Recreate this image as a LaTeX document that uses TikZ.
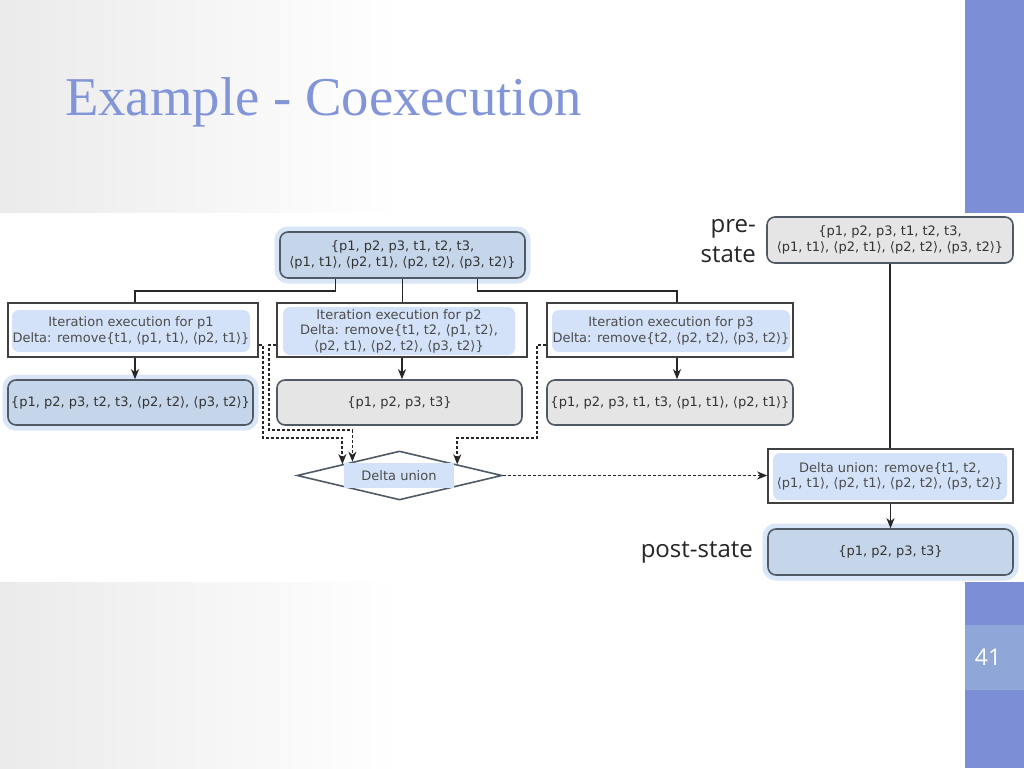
\documentclass[tikz,border=0pt]{standalone}
\usepackage{fontspec}
\setmainfont{DejaVu Sans}
\newfontfamily\titlefont{Liberation Serif}
\newfontfamily\labelfont{Open Sans}
\usetikzlibrary{shapes.geometric,arrows.meta,calc}
\definecolor{barblue}{HTML}{7B8ED6}
\definecolor{numbox}{HTML}{8FA6D8}
\definecolor{titleblue}{HTML}{8295D8}
\definecolor{stateblue}{HTML}{C6D6EA}
\definecolor{glowblue}{HTML}{D9E6F8}
\definecolor{hiblue}{HTML}{D3E2F8}
\definecolor{stategray}{HTML}{E5E5E5}
\definecolor{edgec}{HTML}{505A66}
\definecolor{txt}{HTML}{333333}
\begin{document}
\begin{tikzpicture}[x=1pt,y=-1pt,
  base/.style={font=\fontsize{13}{15.5}\selectfont, text=txt, align=center, inner sep=0pt},
  bluestate/.style={base, draw=edgec, line width=1.6pt, rounded corners=8pt, fill=stateblue,
     preaction={draw=glowblue, line width=11pt}},
  graystate/.style={base, draw=edgec, line width=1.6pt, rounded corners=8pt, fill=stategray},
  iterbox/.style={draw=black!75, line width=1.6pt, fill=white, inner sep=0pt},
  hilite/.style={base, text=black!70, fill=hiblue, rounded corners=7pt},
  conn/.style={line width=1.6pt, draw=black!85},
  arr/.style={conn, -{Stealth[length=10pt,width=8pt,inset=3pt]}},
  dsharr/.style={arr, line width=1.8pt, dash pattern=on 3pt off 2pt},
  lbl/.style={font=\labelfont\fontsize{24}{30}\selectfont, text=black!85, align=right, inner sep=0pt}
]
\useasboundingbox (0,0) rectangle (1024,768);
% background
\fill[white] (0,0) rectangle (1024,768);
\shade[left color=black!8, right color=white] (0,0) rectangle (400,768);
\fill[white] (0,213) rectangle (1024,582);
\fill[barblue] (965,0) rectangle (1024,213);
\fill[barblue] (965,582) rectangle (1024,768);
\fill[numbox] (965,625) rectangle (1024,690);
\node[text=white, font=\labelfont\fontsize{23}{26}\selectfont] (pg) at (988,657) {41};

% title
\node[anchor=base west, font=\titlefont\fontsize{54.7}{60}\selectfont, text=titleblue, inner sep=0pt] (title) at (65,115) {Example - Coexecution};

% top state
\node[bluestate, minimum width=245pt, minimum height=46pt] (top) at (402.5,255)
  {\{p1, p2, p3, t1, t2, t3,\\⟨p1, t1⟩, ⟨p2, t1⟩, ⟨p2, t2⟩, ⟨p3, t2⟩\}};

% iteration boxes
\node[iterbox, minimum width=250pt, minimum height=54pt] (it1) at (133,330) {};
\node[hilite, minimum width=238pt, minimum height=42pt] (it1t) at (131,331)
  {Iteration execution for p1\\Delta: remove\{t1, ⟨p1, t1⟩, ⟨p2, t1⟩\}};
\node[iterbox, minimum width=250pt, minimum height=54pt] (it2) at (402,330) {};
\node[hilite, minimum width=232pt, minimum height=48pt] (it2t) at (399,331)
  {Iteration execution for p2\\Delta: remove\{t1, t2, ⟨p1, t2⟩,\\⟨p2, t1⟩, ⟨p2, t2⟩, ⟨p3, t2⟩\}};
\node[iterbox, minimum width=246pt, minimum height=54pt] (it3) at (670,330) {};
\node[hilite, minimum width=238pt, minimum height=42pt] (it3t) at (671,331)
  {Iteration execution for p3\\Delta: remove\{t2, ⟨p2, t2⟩, ⟨p3, t2⟩\}};

% result states
\node[bluestate, minimum width=245pt, minimum height=45pt] (r1) at (130.5,402.5)
  {\{p1, p2, p3, t2, t3, ⟨p2, t2⟩, ⟨p3, t2⟩\}};
\node[graystate, minimum width=245pt, minimum height=45pt] (r2) at (399.5,402.5)
  {\{p1, p2, p3, t3\}};
\node[graystate, minimum width=246pt, minimum height=45pt] (r3) at (670,402.5)
  {\{p1, p2, p3, t1, t3, ⟨p1, t1⟩, ⟨p2, t1⟩\}};

% diamond
\node[diamond, draw=edgec, line width=1.6pt, fill=white, minimum width=205pt, minimum height=49pt,
  aspect=4.18, inner sep=0pt] (du) at (399.5,475.5) {};
\node[base, text=black!70, fill=hiblue, minimum width=110pt, minimum height=25pt] (dut) at (399,475.5) {Delta union};

% right column
\node[graystate, minimum width=246pt, minimum height=46pt] (pre) at (890,240)
  {\{p1, p2, p3, t1, t2, t3,\\⟨p1, t1⟩, ⟨p2, t1⟩, ⟨p2, t2⟩, ⟨p3, t2⟩\}};
\node[iterbox, minimum width=245pt, minimum height=54pt] (dbox) at (890.5,476) {};
\node[hilite, minimum width=234pt, minimum height=47pt] (dboxt) at (890,476.5)
  {Delta union: remove\{t1, t2,\\⟨p1, t1⟩, ⟨p2, t1⟩, ⟨p2, t2⟩, ⟨p3, t2⟩\}};
\node[bluestate, minimum width=245pt, minimum height=46pt] (post) at (890.5,552) {\{p1, p2, p3, t3\}};

\node[lbl, anchor=east] (prelbl) at (756,241) {pre-\\state};
\node[lbl, anchor=east] (postlbl) at (753,552) {post-state};

% connectors
\draw[conn] ([xshift=-67pt]top.south) -- ++(0,12) -| ([xshift=2pt]it1.north);
\draw[conn] (top.south) -- (top.south |- it2.north);
\draw[conn] ([xshift=75pt]top.south) -- ++(0,12) -| ([xshift=7pt]it3.north);

\draw[arr] ([xshift=2pt]it1.south) -- ([xshift=2pt]it1.south |- r1.north);
\draw[arr] (it2.south) -- (it2.south |- r2.north);
\draw[arr] ([xshift=7pt]it3.south) -- ([xshift=7pt]it3.south |- r3.north);

\draw[dsharr] ($(it1.east)+(0,15)$) -- ++(4,0) -- ++(0,93) -| ($(du.west)!0.447!(du.north)$);
\draw[dsharr] ($(it2.west)+(0,15)$) -- ++(-7,0) -- ++(0,85) -| ($(du.west)!0.544!(du.north)$);
\draw[dsharr] ($(it3.west)+(0,15)$) -- ++(-9,0) -- ++(0,93) -| ($(du.north)!0.559!(du.east)$);
\draw[dsharr] (du.east) -- (dbox.west |- du.east);

\draw[conn] (pre.south) -- (pre.south |- dbox.north);
\draw[arr] (dbox.south) -- (dbox.south |- post.north);
\end{tikzpicture}
\end{document}
